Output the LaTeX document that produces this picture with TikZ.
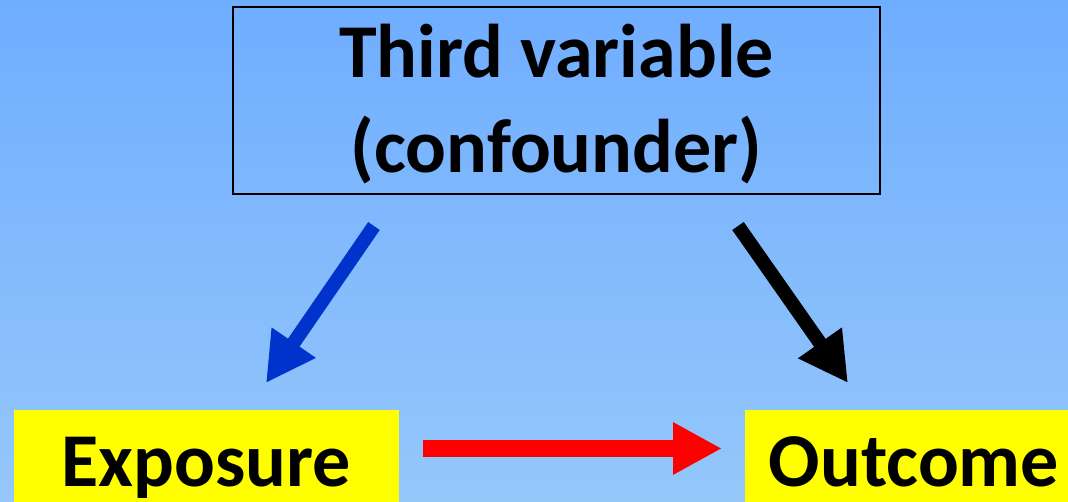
\documentclass[tikz,border=0pt]{standalone}
\usepackage{fontspec}
\setmainfont{Carlito}
\usetikzlibrary{arrows.meta}
\definecolor{bgtop}{HTML}{6FADFF}
\definecolor{bgbot}{HTML}{95C7FA}
\definecolor{arrblue}{HTML}{0033CC}
\definecolor{boxyellow}{HTML}{FFFF00}
\begin{document}
\begin{tikzpicture}[x=0.02cm,y=-0.02cm,
  lbl/.style={font=\fontsize{43.3pt}{54pt}\selectfont\bfseries, text=black},
  ybox/.style={fill=boxyellow, draw=none, inner sep=0pt},
  tbox/.style={draw=black, line width=1.1pt, inner sep=0pt, minimum width=12.94cm, minimum height=3.74cm},
  bigarrow/.style={line width=0.28cm, -{Triangle[width=1.0cm,length=0.98cm]}},
  redarrow/.style={line width=0.34cm, red, -{Triangle[width=0.98cm,length=0.98cm]}}]
\shade[top color=bgtop, bottom color=bgbot] (0,0) rectangle (1068,501);
\useasboundingbox (0,0) rectangle (1068,501);
\node[tbox] (third) at (556.5,100.5) {};
\node[lbl, align=center] (thirdtext) at (556.5,104) {Third variable\\(confounder)};
\node[ybox, minimum width=7.7cm, minimum height=2.2cm, anchor=north west] (exposure) at (14,410) {};
\node[ybox, minimum width=6.6cm, minimum height=2.2cm, anchor=north west] (outcome) at (745,410) {};
\node[lbl, anchor=base] (exptext) at (206,486) {Exposure};
\node[lbl, anchor=base] (outtext) at (914,486) {Outcome};
\coordinate (b1) at (374,226);
\coordinate (b2) at (266,383);
\coordinate (k1) at (738,226);
\coordinate (k2) at (848,383);
\coordinate (r1) at (423,448.5);
\coordinate (r2) at (722,448.5);
\draw[bigarrow, arrblue] (b1) -- (b2);
\draw[bigarrow, black] (k1) -- (k2);
\draw[redarrow] (r1) -- (r2);
\end{tikzpicture}
\end{document}
